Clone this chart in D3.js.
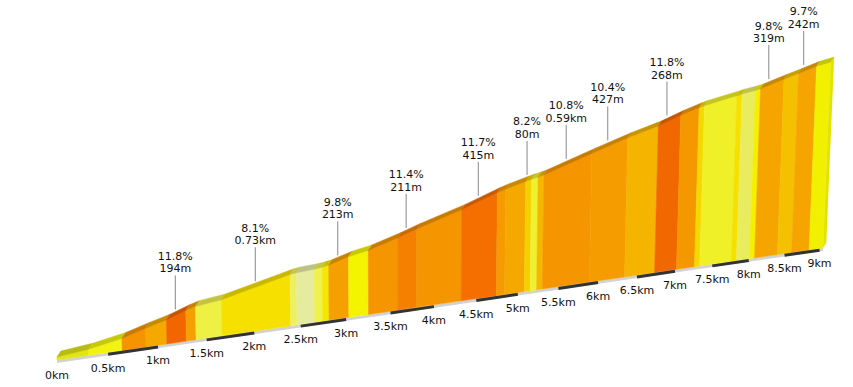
<!DOCTYPE html>
<html>
<head>
<meta charset="utf-8">
<script src="https://cdnjs.cloudflare.com/ajax/libs/d3/7.8.5/d3.min.js"></script>
<style>
body { margin: 0; background: #fff; }
svg { display: block; }
text { font-family: "DejaVu Sans", Verdana, sans-serif; font-size: 11px; fill: #111; }
</style>
</head>
<body>
<div id="profile"></div>
<script>
// segment boundaries along the climb (km)
var km = [0, 0.31, 0.64, 0.88, 1.09, 1.29, 1.39, 1.66, 2.39, 2.46, 2.65, 2.74, 2.81, 3.03,
          3.25, 3.58, 3.80, 4.32, 4.74, 4.84, 5.08, 5.15, 5.23, 5.30, 5.89, 6.34, 6.73,
          7.02, 7.26, 7.33, 7.76, 7.83, 8.01, 8.08, 8.40, 8.60, 8.85, 9.05];
// height gained at each boundary (m)
var elev = [0, 11, 32, 56, 75, 99, 109, 120, 179, 182, 186, 190, 194, 216,
            230, 263, 288, 340, 390, 400, 421, 427, 432, 438, 502, 549, 584,
            618, 642, 648, 676, 681, 690, 695, 726, 744, 768, 781];
// colour of each segment (gradient class)
var segColor = ["#e2e414", "#f3f312", "#f59400", "#f5a800", "#f26600", "#f5a000", "#eff044",
                "#f6e000", "#eef060", "#e5eca0", "#f0f050", "#f5e800", "#f5a000", "#f5f400",
                "#f59600", "#f58000", "#f59500", "#f46e00", "#f59a00", "#f5a800", "#f5d000",
                "#eef030", "#f5b800", "#f59600", "#f59c00", "#f5b400", "#f26800", "#f59800",
                "#f5d800", "#f0f028", "#f5e000", "#eaec60", "#f5f000", "#f5a400", "#f5c000",
                "#f5a400", "#f0f000"];

var tickKm = [0, 0.5, 1, 1.5, 2, 2.5, 3, 3.5, 4, 4.5, 5, 5.5, 6, 6.5, 7, 7.5, 8, 8.5, 9];
var tickLabel = ["0km", "0.5km", "1km", "1.5km", "2km", "2.5km", "3km", "3.5km", "4km", "4.5km",
                 "5km", "5.5km", "6km", "6.5km", "7km", "7.5km", "8km", "8.5km", "9km"];

// annotated steep parts: segment index, gradient, length
var noteSeg = [4, 7, 12, 15, 17, 20, 23, 24, 26, 33, 35];
var noteGrad = ["11.8%", "8.1%", "9.8%", "11.4%", "11.7%", "8.2%", "10.8%", "10.4%", "11.8%", "9.8%", "9.7%"];
var noteLen = ["194m", "0.73km", "213m", "211m", "415m", "80m", "0.59km", "427m", "268m", "319m", "242m"];

var width = 853, height = 387;

var svg = d3.select("#profile").append("svg")
    .attr("width", width)
    .attr("height", height);

// distance -> depth along the road, elevation -> face height (before perspective)
var xWorld = d3.scaleLinear().domain([0, 9.05]).range([0, 936.7]);
var hScale = d3.scaleLinear().domain([0, 781]).range([3, 227.4]);

var persp = 0.02462;
var x0 = 57, y0 = 360, baseSlope = 0.1464;

// project (km, height px, depth 0/1) to screen
function proj(d, hpx, depth) {
  var p = 1 / (1 + persp * d);
  var bx = x0 + xWorld(d) * p;
  var by = y0 - baseSlope * (bx - x0);
  var h = hpx * p;
  var x = bx + h * (bx - 400) * 0.0001 + depth * 4 * p;
  var y = by - h - depth * 6 * p;
  return [x, y];
}

var nSeg = km.length - 1;
var segs = d3.range(nSeg).map(function(i) {
  return {i: i, d0: km[i], d1: km[i+1], h0: hScale(elev[i]), h1: hScale(elev[i+1]), c: segColor[i]};
});

// ground strip under the profile
var gA = proj(0, 0, 0), gB = proj(km[nSeg], 0, 0);
svg.append("polygon")
    .attr("points", [[gA[0], gA[1]], [gB[0], gB[1]], [gB[0], gB[1] + 3], [gA[0], gA[1] + 3]].join(" "))
    .style("fill", "#d2d2d2");

// front faces
svg.selectAll(".face")
    .data(segs)
  .enter().append("polygon")
    .attr("class", "face")
    .attr("points", function(s) {
      return [proj(s.d0, 0, 0), proj(s.d1, 0, 0), proj(s.d1, s.h1, 0), proj(s.d0, s.h0, 0)].join(" ");
    })
    .style("fill", function(s) { return s.c; })
    .style("stroke", function(s) { return s.c; })
    .style("stroke-width", 0.5);

// top surface
svg.selectAll(".top")
    .data(segs)
  .enter().append("polygon")
    .attr("class", "top")
    .attr("points", function(s) {
      return [proj(s.d0, s.h0, 0), proj(s.d1, s.h1, 0), proj(s.d1, s.h1, 1), proj(s.d0, s.h0, 1)].join(" ");
    })
    .style("fill", function(s) { return d3.color(s.c).darker(0.55); })
    .style("stroke", function(s) { return d3.color(s.c).darker(0.55); })
    .style("stroke-width", 0.5);

// end cap
var last = segs[nSeg - 1];
svg.append("polygon")
    .attr("points", [proj(last.d1, 0, 0), proj(last.d1, last.h1, 0), proj(last.d1, last.h1, 1), proj(last.d1, 0, 1)].join(" "))
    .style("fill", d3.color(last.c).darker(0.15));

// half-km dashes
svg.selectAll(".dash")
    .data(tickKm.slice(1))
  .enter().append("line")
    .filter(function(d) { return d % 1 === 0; })
    .attr("x1", function(d) { return proj(d - 0.5, 0, 0)[0]; })
    .attr("y1", function(d) { return proj(d - 0.5, 0, 0)[1] + 1.8; })
    .attr("x2", function(d) { return proj(d, 0, 0)[0]; })
    .attr("y2", function(d) { return proj(d, 0, 0)[1] + 1.8; })
    .style("stroke", "#333")
    .style("stroke-width", 3);

// km labels
svg.selectAll(".klab")
    .data(tickKm)
  .enter().append("text")
    .attr("x", function(d) { return proj(d, 0, 0)[0]; })
    .attr("y", function(d) { return proj(d, 0, 0)[1] + 19; })
    .attr("text-anchor", "middle")
    .text(function(d, i) { return tickLabel[i]; });

// annotations
noteSeg.forEach(function(si, j) {
  var s = segs[si];
  var dm = (s.d0 + s.d1) / 2;
  var hm = (s.h0 + s.h1) / 2;
  var pt = proj(dm, hm, 1);
  var tx = proj(dm, hm * 0.6, 0)[0] - 1;
  var base2 = pt[1] - 37;
  svg.append("line")
      .attr("x1", tx).attr("y1", base2 + 3)
      .attr("x2", tx).attr("y2", pt[1])
      .style("stroke", "#888")
      .style("stroke-width", 1);
  svg.append("text").attr("x", tx).attr("y", base2 - 12.5)
      .attr("text-anchor", "middle").text(noteGrad[j]);
  svg.append("text").attr("x", tx).attr("y", base2)
      .attr("text-anchor", "middle").text(noteLen[j]);
});
</script>
</body>
</html>
